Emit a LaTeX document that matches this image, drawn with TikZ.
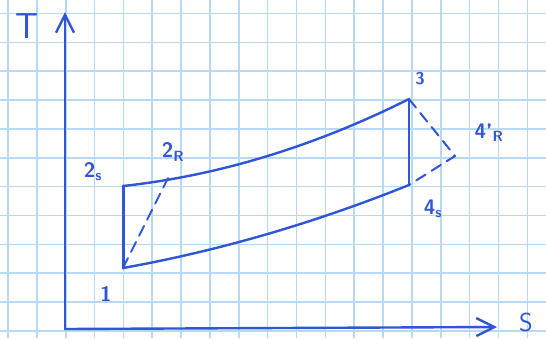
\documentclass[tikz,border=0pt]{standalone}
\usepackage{tikz}
\usetikzlibrary{arrows.meta}
\definecolor{PenBlue}{HTML}{2E56D6}
\definecolor{GridBlue}{HTML}{B7D9F2}

\begin{document}
\begin{tikzpicture}[
    x=1pt, y=-1pt,
    font=\sffamily,
    grade/.style={draw=GridBlue, line width=1.6pt},
    pen/.style={draw=PenBlue, line width=2.4pt, line cap=round, line join=round},
    tracejado/.style={pen, line width=2pt, dash pattern=on 11pt off 7pt},
    eixo/.style={pen, -{Straight Barb[length=18pt, width=18pt]}},
    rotulo/.style={text=PenBlue, inner sep=0pt, font=\sffamily\bfseries\fontsize{21}{21}\selectfont}
]

  % Papel quadriculado
  \useasboundingbox[fill=white] (0,0) rectangle (546,338);
  \foreach \i in {0,...,18} \draw[grade] (8+28.85*\i,0) -- (8+28.85*\i,338);
  \foreach \j in {0,...,11} \draw[grade] (0,13.5+28.85*\j) -- (546,13.5+28.85*\j);

  % =========================================================================
  % EIXOS T-s
  % =========================================================================
  \coordinate (origem) at (65,329);
  \coordinate (topo_t) at (65,12);
  \coordinate (fim_s) at (497,327);
  \draw[eixo] (origem) -- (topo_t);
  \draw[eixo] (origem) -- (fim_s);
  \node[rotulo, font=\sffamily\fontsize{36}{36}\selectfont] (lbl_t) at (27,26) {T};
  \node[rotulo, font=\sffamily\fontsize{26}{26}\selectfont] (lbl_s) at (526,322) {S};

  % =========================================================================
  % ESTADOS DO CICLO
  % =========================================================================
  \coordinate (p_1) at (123,268);
  \coordinate (p_2s) at (123,186);
  \coordinate (p_2r) at (168,178);
  \coordinate (p_3) at (409,99);
  \coordinate (p_4s) at (409,185);
  \coordinate (p_4r) at (455,156);

  % Compressao isentropica e expansao isentropica
  \draw[pen, line width=3pt] (p_1) -- (p_2s);
  \draw[pen] (p_3) -- (p_4s);

  % Isobaras (alta e baixa pressao)
  \draw[pen] (p_2s) .. controls (218,175.7) and (313.7,146.7) .. (p_3);
  \draw[pen] (p_1) .. controls (218,251) and (313.7,223.3) .. (p_4s);

  % Processos reais
  \draw[tracejado] (p_1) -- (p_2r);
  \draw[tracejado] (p_3) -- (p_4r) -- (p_4s);

  % Rotulos
  \node[rotulo] (lbl_1) at (106,294) {1};
  \node[rotulo] (lbl_2s) at (93,172) {2\textsubscript{s}};
  \node[rotulo] (lbl_2r) at (173,152) {2\textsubscript{R}};
  \node[rotulo, font=\sffamily\bfseries\fontsize{17}{17}\selectfont] (lbl_3) at (420,79) {3};
  \node[rotulo] (lbl_4r) at (489,133) {4'\textsubscript{R}};
  \node[rotulo] (lbl_4s) at (433,209) {4\textsubscript{s}};

\end{tikzpicture}
\end{document}
